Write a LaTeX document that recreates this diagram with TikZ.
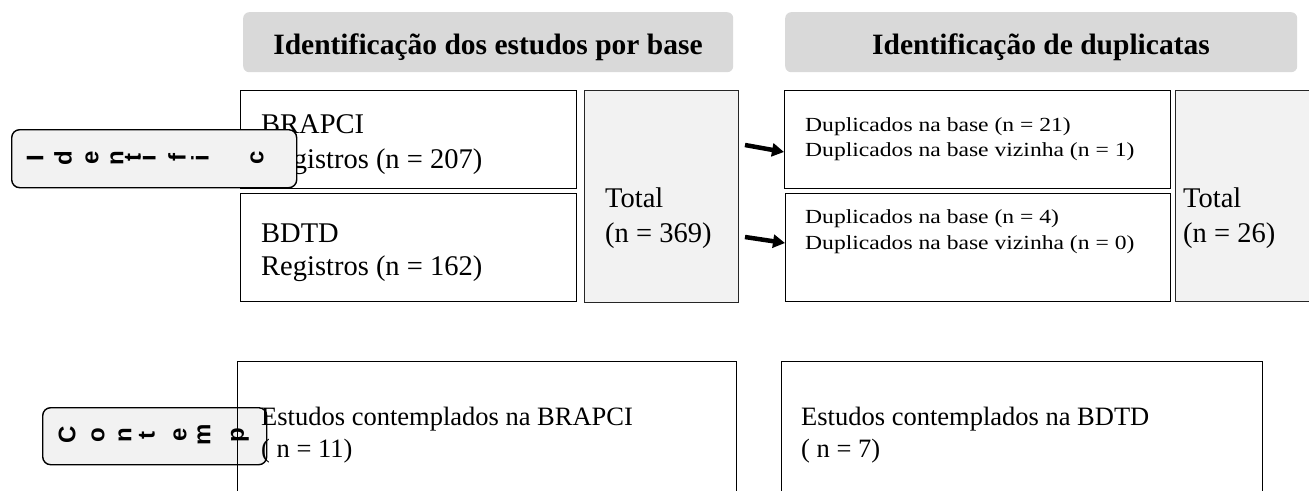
\documentclass[tikz,border=0pt]{standalone}
\usepackage{fontspec}
\setmainfont{Liberation Serif}
\newfontfamily\sidefont{Liberation Sans Bold}
\newfontfamily\dupfont[FakeStretch=1.18]{Liberation Serif}
\usetikzlibrary{arrows.meta}
\definecolor{headgray}{HTML}{D9D9D9}
\definecolor{boxgray}{HTML}{F2F2F2}

\begin{document}
\begin{tikzpicture}[x=1pt,y=-1pt,
    head/.style={fill=headgray, rounded corners=6pt, anchor=north west, inner sep=0pt},
    headtxt/.style={anchor=base, inner sep=0pt, font=\fontsize{29.5}{34}\selectfont\bfseries},
    box/.style={draw, line width=1.4pt, anchor=north west, inner sep=0pt},
    totbox/.style={draw=black!85, line width=1.1pt, fill=boxgray, anchor=north west, inner sep=0pt},
    sidebox/.style={draw, line width=1.4pt, fill=boxgray, rounded corners=8pt, anchor=north west, inner sep=0pt},
    sidechar/.style={rotate=90, inner sep=0pt, font=\sidefont\fontsize{24}{24}\selectfont},
    big/.style={anchor=base west, inner sep=0pt, font=\fontsize{28.5}{34}\selectfont},
    dup/.style={anchor=base west, inner sep=0pt, font=\dupfont\fontsize{20}{24}\selectfont},
    res/.style={anchor=base west, inner sep=0pt, font=\fontsize{26.5}{32}\selectfont},
    thick arrow/.style={line width=4.5pt, -{Triangle[length=12pt,width=13pt]}}]
  \useasboundingbox (0,0) rectangle (1309,490);
  \clip (0,0) rectangle (1309,490);

  % headings
  \node[head, minimum width=490pt, minimum height=60pt] (idhead) at (243,12) {};
  \node[headtxt] (idheadtxt) at (488,54) {Identificação dos estudos por base};
  \node[head, minimum width=512pt, minimum height=60pt] (duphead) at (785,12) {};
  \node[headtxt] (dupheadtxt) at (1041,54) {Identificação de duplicatas};

  % records per base
  \node[box, minimum width=336pt, minimum height=98pt] (brapci) at (240,90) {};
  \node[big] (brapcia) at (261,133) {BRAPCI};
  \node[big] (brapcib) at (261,168) {Registros (n = 207)};
  \node[box, minimum width=336pt, minimum height=108pt] (bdtd) at (240,193) {};
  \node[big] (bdtda) at (261,242) {BDTD};
  \node[big] (bdtdb) at (261,275) {Registros (n = 162)};
  \node[totbox, minimum width=154pt, minimum height=212pt] (total) at (584,90) {};
  \node[big] (totala) at (605,207) {Total};
  \node[big] (totalb) at (605,242) {(n = 369)};

  % duplicates
  \node[box, minimum width=386pt, minimum height=98pt] (dupa) at (784,90) {};
  \node[dup] (dupaa) at (805,131) {Duplicados na base (n = 21)};
  \node[dup] (dupab) at (805,156) {Duplicados na base vizinha (n = 1)};
  \node[box, minimum width=385pt, minimum height=108pt] (dupb) at (785,193) {};
  \node[dup] (dupba) at (805,223) {Duplicados na base (n = 4)};
  \node[dup] (dupbb) at (805,249) {Duplicados na base vizinha (n = 0)};
  \node[totbox, minimum width=150pt, minimum height=211pt] (duptotal) at (1175,90) {};
  \node[big] (duptotala) at (1183,207) {Total};
  \node[big] (duptotalb) at (1183,242) {(n = 26)};

  % side label (identification)
  \node[sidebox, minimum width=285pt, minimum height=58pt] (sideid) at (11,129) {};
  \foreach \ch/\px in {I/35, d/63, e/92, n/117, t/133, i/147, f/177, i/200, c/257}
    \node[sidechar] (id-\px) at (\px,158) {\ch};

  % arrows
  \coordinate (arra) at (745,145);
  \coordinate (arrb) at (745,237);
  \draw[thick arrow] (arra) -- (dupa.west |- 0,152);
  \draw[thick arrow] (arrb) -- (dupb.west |- 0,243);

  % side label (included)
  \node[sidebox, minimum width=224pt, minimum height=57pt] (sideinc) at (42,407) {};
  \foreach \ch/\px in {C/67, o/98, n/125, t/147, e/180, m/204, p/240}
    \node[sidechar] (inc-\px) at (\px,435) {\ch};

  % included studies
  \node[box, minimum width=499pt, minimum height=160pt] (incbrapci) at (237,361) {};
  \node[res] (incbrapcia) at (261,425) {Estudos contemplados na BRAPCI};
  \node[res] (incbrapcib) at (261,457) {( n = 11)};
  \node[box, minimum width=481pt, minimum height=160pt] (incbdtd) at (781,361) {};
  \node[res] (incbdtda) at (801,425) {Estudos contemplados na BDTD};
  \node[res] (incbdtdb) at (801,457) {( n = 7)};
\end{tikzpicture}
\end{document}
